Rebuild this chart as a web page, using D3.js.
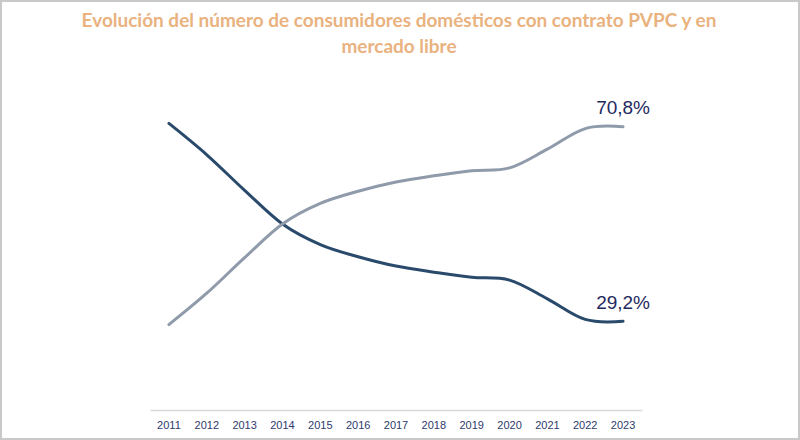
<!DOCTYPE html>
<html>
<head>
<meta charset="utf-8">
<script src="https://cdn.jsdelivr.net/npm/d3@7/dist/d3.min.js"></script>
<style>
  html, body { margin: 0; padding: 0; background: #fff; }
  svg { display: block; }
</style>
</head>
<body>
<svg id="chart" width="800" height="440"></svg>
<script>
// ---- Data ----
const years = ["2011","2012","2013","2014","2015","2016","2017","2018","2019","2020","2021","2022","2023"];
const pvpc  = [71.5, 64.8, 57.2, 50.0, 45.6, 43.0, 41.0, 39.7, 38.6, 38.0, 34.0, 29.6, 29.2];
const libre = [28.5, 35.2, 42.8, 50.0, 54.4, 57.0, 59.0, 60.3, 61.4, 62.0, 66.0, 70.4, 70.8];
const endLabels = ["29,2%", "70,8%"];
const titleLines = ["Evolución del número de consumidores domésticos con contrato PVPC y en", "mercado libre"];

const W = 800, H = 440;
const svg = d3.select("#chart");

// border
svg.append("rect")
  .attr("x", 1).attr("y", 1).attr("width", W - 2).attr("height", H - 2)
  .attr("fill", "#fff").attr("stroke", "#c9c9c9").attr("stroke-width", 2);

// title
const title = svg.append("text")
  .attr("text-anchor", "middle")
  .attr("font-family", "Lato, 'Open Sans', sans-serif")
  .attr("font-weight", "bold")
  .attr("fill", "#e9b27f");
titleLines.forEach((t, i) => {
  title.append("tspan").attr("x", 399).attr("y", 26.5 + i * 26).text(t);
});
// fit first line to reference width
let fs = 19;
title.attr("font-size", fs);
const w0 = title.select("tspan").node().getComputedTextLength();
fs = Math.min(20, fs * 635 / w0);
title.attr("font-size", fs);

// scales
const x = d3.scaleBand().domain(years).range([150, 642]).padding(0);
const cx = d => x(d) + x.bandwidth() / 2;
const y = d3.scaleLinear().domain([20, 80]).range([364.3, 83.7]);

// axis
const axis = svg.append("g")
  .attr("transform", "translate(0,410)")
  .call(d3.axisBottom(x).tickSizeInner(0).tickSizeOuter(0).tickPadding(11));
axis.select(".domain").attr("stroke", "#d9d9d9").attr("stroke-width", 1.5);
axis.selectAll("text")
  .attr("font-family", "Arial, 'Liberation Sans', sans-serif")
  .attr("font-size", 11)
  .attr("fill", "#2e3a6b");

// lines
const line = d3.line()
  .x((d, i) => cx(years[i]))
  .y(d => y(d))
  .curve(d3.curveCardinal.tension(0));

const series = [
  { values: pvpc,  color: "#2a4a6c", label: endLabels[0] },
  { values: libre, color: "#8f9aab", label: endLabels[1] }
];

series.forEach(s => {
  svg.append("path")
    .datum(s.values)
    .attr("d", line)
    .attr("fill", "none")
    .attr("stroke", s.color)
    .attr("stroke-width", 3)
    .attr("stroke-linecap", "round");
});

series.forEach(s => {
  const last = s.values.length - 1;
  svg.append("text")
    .attr("x", cx(years[last]))
    .attr("y", y(s.values[last]) - 12.5)
    .attr("text-anchor", "middle")
    .attr("font-family", "Arial, 'Liberation Sans', sans-serif")
    .attr("font-size", 19)
    .attr("fill", "#1f2a5e")
    .text(s.label);
});
</script>
</body>
</html>
